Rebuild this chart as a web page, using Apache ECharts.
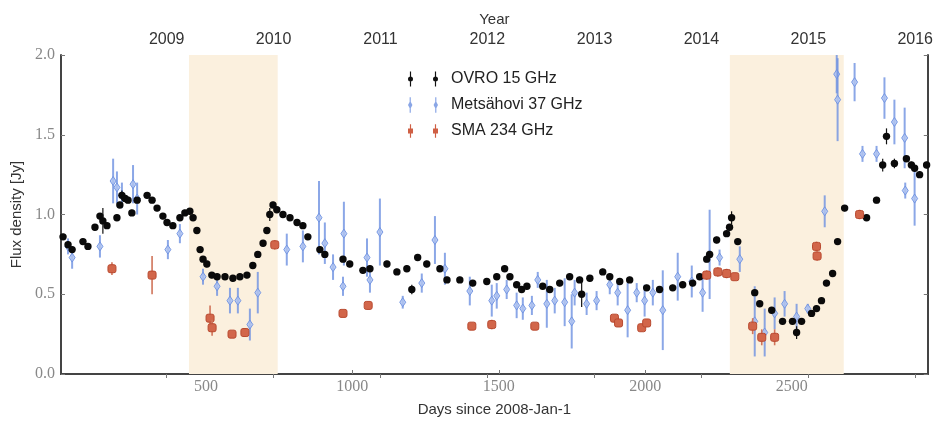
<!DOCTYPE html>
<html>
<head>
    <meta charset="utf-8">
    <title>Flux density light curve</title>
    <script src="https://cdn.jsdelivr.net/npm/echarts@6/dist/echarts.min.js"></script>
    <style>
        html, body { margin: 0; padding: 0; background: #fff; }
        #main { width: 936px; height: 422px; }
    </style>
</head>
<body>
<div id="main"></div>
<script type="text/javascript">
    // [day, flux, err]
    var ovroPoints = [
        [12,0.86,0.02],[29,0.81,0.02],[43,0.78,0.02],[80,0.83,0.02],[97,0.80,0.02],[121,0.92,0.02],
        [138,0.99,0.02],[148,0.96,0.08],[162,0.93,0.02],[196,0.98,0.02],[206,1.06,0.02],[213,1.12,0.03],
        [224,1.10,0.02],[234,1.09,0.02],[247,1.01,0.02],[265,1.09,0.02],[299,1.12,0.02],[316,1.09,0.02],
        [333,1.04,0.02],[353,0.99,0.02],[367,0.95,0.02],[387,0.93,0.02],[411,0.98,0.02],[428,1.01,0.02],
        [445,1.02,0.02],[456,0.98,0.02],[469,0.90,0.02],[480,0.78,0.02],[490,0.72,0.02],[503,0.69,0.02],
        [520,0.62,0.02],[538,0.61,0.02],[565,0.61,0.02],[592,0.60,0.02],[616,0.61,0.02],[640,0.62,0.02],
        [660,0.68,0.02],[677,0.75,0.02],[695,0.82,0.02],[708,0.90,0.02],[718,1.00,0.04],[729,1.06,0.02],
        [742,1.03,0.02],[763,1.00,0.02],[787,0.98,0.02],[811,0.95,0.02],[831,0.93,0.02],[848,0.86,0.02],
        [889,0.78,0.02],[906,0.75,0.02],[968,0.72,0.02],[991,0.69,0.02],[1036,0.65,0.02],[1060,0.66,0.02],
        [1118,0.69,0.02],[1152,0.64,0.02],[1186,0.66,0.02],[1203,0.53,0.03],[1223,0.73,0.02],[1254,0.69,0.02],
        [1299,0.66,0.02],[1323,0.59,0.02],[1367,0.59,0.02],[1411,0.57,0.02],[1459,0.58,0.02],[1493,0.61,0.02],
        [1520,0.66,0.02],[1538,0.61,0.02],[1561,0.56,0.02],[1578,0.53,0.02],[1596,0.55,0.02],[1650,0.55,0.02],
        [1674,0.53,0.02],[1708,0.57,0.02],[1742,0.61,0.02],[1776,0.59,0.02],[1783,0.50,0.08],[1811,0.60,0.02],
        [1855,0.64,0.02],[1879,0.61,0.02],[1913,0.58,0.02],[1947,0.59,0.02],[2005,0.54,0.02],[2049,0.53,0.02],
        [2094,0.54,0.02],[2128,0.56,0.02],[2162,0.57,0.02],[2186,0.61,0.02],[2210,0.72,0.02],[2220,0.75,0.02],
        [2244,0.84,0.02],[2278,0.88,0.02],[2288,0.92,0.02],[2295,0.98,0.04],[2316,0.83,0.02],[2374,0.51,0.02],
        [2391,0.44,0.02],[2432,0.40,0.02],[2469,0.33,0.02],[2503,0.33,0.02],[2517,0.26,0.04],[2534,0.33,0.02],
        [2568,0.38,0.02],[2585,0.41,0.02],[2602,0.46,0.02],[2619,0.57,0.02],[2640,0.63,0.02],[2657,0.83,0.02],
        [2681,1.04,0.02],[2756,0.98,0.02],[2790,1.09,0.02],[2811,1.31,0.04],[2824,1.49,0.05],[2851,1.32,0.03],
        [2892,1.35,0.02],[2909,1.31,0.02],[2920,1.29,0.02],[2937,1.25,0.02],[2961,1.31,0.02]
    ];

    var metsPoints = [
        [29,0.80,0.05],[43,0.73,0.07],[138,0.80,0.07],[183,1.21,0.14],[196,1.17,0.10],[213,1.12,0.08],
        [251,1.19,0.12],[265,1.10,0.10],[370,0.78,0.06],[411,0.88,0.06],[490,0.61,0.05],[538,0.55,0.06],
        [582,0.46,0.08],[609,0.46,0.08],[650,0.31,0.10],[677,0.51,0.13],[776,0.78,0.10],[831,0.80,0.10],
        [886,0.98,0.23],[906,0.82,0.13],[934,0.67,0.08],[968,0.55,0.06],[971,0.88,0.20],[1050,0.73,0.12],
        [1060,0.59,0.08],[1094,0.89,0.21],[1172,0.45,0.04],[1237,0.57,0.06],[1282,0.84,0.15],[1316,0.66,0.10],
        [1401,0.52,0.09],[1476,0.46,0.10],[1493,0.49,0.08],[1527,0.53,0.06],[1561,0.43,0.08],[1582,0.41,0.07],
        [1613,0.43,0.06],[1633,0.59,0.05],[1664,0.44,0.15],[1691,0.46,0.08],[1725,0.45,0.15],[1749,0.33,0.17],
        [1759,0.51,0.08],[1800,0.44,0.07],[1834,0.46,0.06],[1879,0.56,0.06],[1906,0.51,0.08],[1940,0.40,0.17],
        [1971,0.51,0.06],[1998,0.46,0.10],[2026,0.51,0.08],[2060,0.40,0.25],[2111,0.61,0.15],[2159,0.58,0.10],
        [2196,0.51,0.12],[2220,0.75,0.28],[2254,0.73,0.05],[2323,0.72,0.08],[2374,0.33,0.22],[2408,0.26,0.15],
        [2442,0.38,0.10],[2476,0.44,0.08],[2517,0.36,0.08],[2555,0.41,0.03],[2613,1.02,0.10],[2654,1.88,0.12],
        [2657,1.72,0.26],[2715,1.83,0.12],[2742,1.38,0.05],[2790,1.38,0.05],[2817,1.73,0.13],[2851,1.58,0.14],
        [2886,1.48,0.19],[2888,1.15,0.05],[2920,1.10,0.17]
    ];

    var smaPoints = [
        [179,0.66,0.04],[316,0.62,0.12],[514,0.35,0.08],[521,0.29,0.05],[589,0.25,0.02],[633,0.26,0.02],
        [735,0.81,0.03],[968,0.38,0.02],[1054,0.43,0.02],[1408,0.30,0.02],[1476,0.31,0.03],[1623,0.30,0.02],
        [1895,0.35,0.02],[1909,0.32,0.02],[1988,0.29,0.02],[2005,0.32,0.02],[2210,0.62,0.03],[2248,0.64,0.03],
        [2278,0.63,0.03],[2306,0.61,0.02],[2367,0.30,0.05],[2398,0.23,0.05],[2442,0.23,0.05],[2585,0.80,0.03],
        [2587,0.74,0.03],[2732,1.00,0.03]
    ];

    var xTicks = [500, 1000, 1500, 2000, 2500];
    var yearDays = [366, 731, 1096, 1461, 1827, 2192, 2557, 2922];
    var yearLabels = ['2009', '2010', '2011', '2012', '2013', '2014', '2015', '2016'];
    var shadeBands = [[442, 745], [2289, 2678]];

    var SANS = 'Liberation Sans';
    var SERIF = 'Liberation Serif';

    // 误差棒 + 标记
    function makeRender(kind) {
        return function (params, api) {
            var x = api.value(0), y = api.value(1), e = api.value(2);
            var c = api.coord([x, y]);
            var cs = params.coordSys;
            var top = Math.max(api.coord([x, y + e])[1], cs.y);
            var bot = Math.min(api.coord([x, y - e])[1], cs.y + cs.height);
            var kids = [];
            var mark;
            if (kind === 'ovro') {
                kids.push({type: 'line', shape: {x1: c[0], y1: top, x2: c[0], y2: bot},
                    style: {stroke: '#111', lineWidth: 1.2}});
                mark = {type: 'circle', shape: {cx: c[0], cy: c[1], r: 3.7}, style: {fill: '#0a0a0a'}};
            } else if (kind === 'mets') {
                kids.push({type: 'line', shape: {x1: c[0], y1: top, x2: c[0], y2: bot},
                    style: {stroke: 'rgba(110,145,225,0.8)', lineWidth: 2}});
                mark = {type: 'polygon', shape: {points: [[c[0], c[1] - 4.5], [c[0] + 3, c[1]], [c[0], c[1] + 4.5], [c[0] - 3, c[1]]]},
                    style: {fill: 'rgba(175,195,240,0.85)', stroke: 'rgba(110,145,225,0.9)', lineWidth: 1}};
            } else {
                kids.push({type: 'line', shape: {x1: c[0], y1: top, x2: c[0], y2: bot},
                    style: {stroke: '#d0745a', lineWidth: 1.6}});
                mark = {type: 'rect', shape: {x: c[0] - 4, y: c[1] - 4, width: 8, height: 8, r: 2},
                    style: {fill: '#d2664a', stroke: '#b94a30', lineWidth: 1}};
            }
            kids.push(mark);
            return {type: 'group', children: kids};
        };
    }

    var iconOvro = 'path://M3,0h1.4v18h-1.4zM3.7,6a3,3 0 1,1 0,6a3,3 0 1,1 0,-6zM33,0h1.4v18h-1.4zM33.7,6a3,3 0 1,1 0,6a3,3 0 1,1 0,-6z';
    var iconMets = 'path://M3,0h1.4v18h-1.4zM3.7,4l2.6,5l-2.6,5l-2.6,-5zM33,0h1.4v18h-1.4zM33.7,4l2.6,5l-2.6,5l-2.6,-5z';
    var iconSma = 'path://M3,1h1.4v16h-1.4zM0.7,6h6v6h-6zM33,1h1.4v16h-1.4zM30.7,6h6v6h-6z';

    var myChart = echarts.init(document.getElementById('main'));

    var axisLineStyle = {color: '#444', width: 2};
    var option = {
        backgroundColor: '#fff',
        animation: false,
        grid: {left: 61, right: 8, top: 55, bottom: 43},
        legend: {
            orient: 'vertical',
            left: 403,
            top: 66,
            itemWidth: 30,
            itemHeight: 16,
            itemGap: 10,
            textStyle: {fontFamily: SANS, fontSize: 16, color: '#222', padding: [0, 0, 0, 8]},
            data: [
                {name: 'OVRO 15 GHz', icon: iconOvro},
                {name: 'Metsähovi 37 GHz', icon: iconMets},
                {name: 'SMA 234 GHz', icon: iconSma}
            ]
        },
        xAxis: [
            {
                type: 'value', position: 'bottom', min: 5, max: 2965,
                name: 'Days since 2008-Jan-1', nameLocation: 'middle', nameGap: 28,
                nameTextStyle: {fontFamily: SANS, fontSize: 15, color: '#333'},
                axisLine: {lineStyle: axisLineStyle},
                axisTick: {inside: true, length: 4, customValues: xTicks, lineStyle: {color: '#777'}},
                minorTick: {show: false},
                axisLabel: {customValues: xTicks, fontFamily: SERIF, fontSize: 16, color: '#888', margin: 5,
                    formatter: function (v) { return String(v); }},
                splitLine: {show: false}
            },
            {
                type: 'value', position: 'top', min: 5, max: 2965,
                name: 'Year', nameLocation: 'middle', nameGap: 27,
                nameTextStyle: {fontFamily: SANS, fontSize: 15, color: '#333'},
                axisLine: {lineStyle: axisLineStyle},
                axisTick: {inside: true, length: 4, customValues: yearDays, lineStyle: {color: '#777'}},
                axisLabel: {
                    customValues: yearDays, fontFamily: SANS, fontSize: 16, color: '#333', margin: 7,
                    formatter: function (v) { return yearLabels[yearDays.indexOf(v)]; }
                },
                splitLine: {show: false}
            }
        ],
        yAxis: [
            {
                type: 'value', position: 'left', min: 0, max: 2, interval: 0.5,
                name: 'Flux density [Jy]', nameLocation: 'middle', nameGap: 35,
                nameTextStyle: {fontFamily: SANS, fontSize: 15, color: '#333'},
                axisLine: {show: true, lineStyle: axisLineStyle},
                axisTick: {show: true, inside: true, length: 4, lineStyle: {color: '#777'}},
                axisLabel: {fontFamily: SERIF, fontSize: 16, color: '#888', margin: 6,
                    formatter: function (v) { return v.toFixed(1); }},
                splitLine: {show: false}
            },
            {
                type: 'value', position: 'right', min: 0, max: 2, interval: 0.5,
                axisLine: {show: true, lineStyle: axisLineStyle},
                axisTick: {show: true, inside: true, length: 4, lineStyle: {color: '#777'}},
                axisLabel: {show: false},
                splitLine: {show: false}
            }
        ],
        series: [
            {
                name: 'bands', type: 'line', data: [], silent: true, z: 0,
                markArea: {
                    silent: true,
                    itemStyle: {color: '#fbf0de'},
                    data: shadeBands.map(function (b) { return [{xAxis: b[0]}, {xAxis: b[1]}]; })
                }
            },
            {
                name: 'Metsähovi 37 GHz', type: 'custom', z: 2,
                itemStyle: {color: '#8aa6e6'},
                encode: {x: 0, y: 1},
                renderItem: makeRender('mets'),
                data: metsPoints
            },
            {
                name: 'OVRO 15 GHz', type: 'custom', z: 3,
                itemStyle: {color: '#111'},
                encode: {x: 0, y: 1},
                renderItem: makeRender('ovro'),
                data: ovroPoints
            },
            {
                name: 'SMA 234 GHz', type: 'custom', z: 4,
                itemStyle: {color: '#cf5f44'},
                encode: {x: 0, y: 1},
                renderItem: makeRender('sma'),
                data: smaPoints
            }
        ]
    };

    myChart.setOption(option);
</script>
</body>
</html>
